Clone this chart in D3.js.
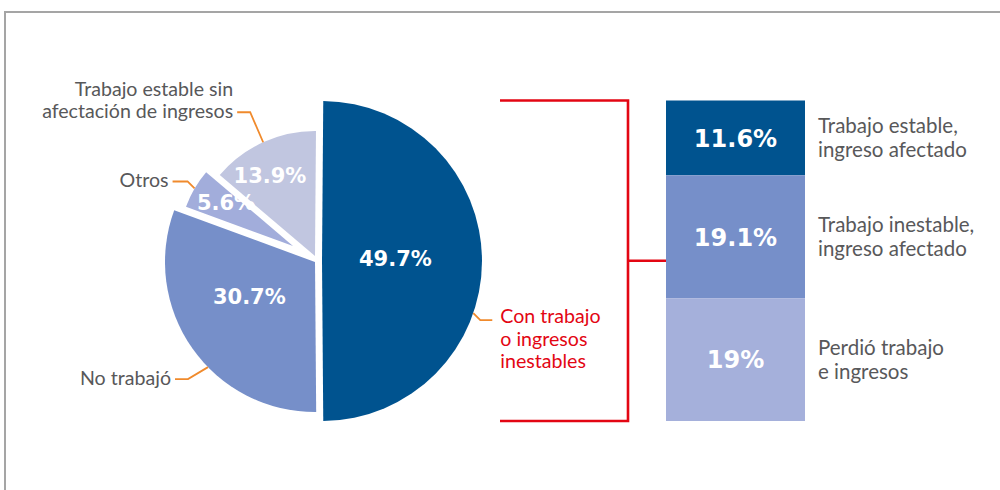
<!DOCTYPE html>
<html>
<head>
<meta charset="utf-8">
<script src="https://cdn.jsdelivr.net/npm/d3@7/dist/d3.min.js"></script>
<style>
  html, body { margin: 0; padding: 0; background: #fff; }
  svg { display: block; }
</style>
</head>
<body>
<svg id="chart" width="1000" height="490"></svg>
<script>
// ---------------- DATA ----------------
const pieCategories = ["Con trabajo o ingresos inestables", "No trabajó", "Otros", "Trabajo estable sin afectación de ingresos"];
const pieValues = [49.7, 30.7, 5.6, 13.9];
const pieValueLabels = ["49.7%", "30.7%", "5.6%", "13.9%"];

const barCategories = ["Trabajo estable, ingreso afectado", "Trabajo inestable, ingreso afectado", "Perdió trabajo e ingresos"];
const barValues = [11.6, 19.1, 19];
const barValueLabels = ["11.6%", "19.1%", "19%"];

const pieCategoryLines = [
  ["Con trabajo", "o ingresos", "inestables"],
  ["No trabajó"],
  ["Otros"],
  ["Trabajo estable sin", "afectación de ingresos"]
];
const barCategoryLines = [
  ["Trabajo estable,", "ingreso afectado"],
  ["Trabajo inestable,", "ingreso afectado"],
  ["Perdió trabajo", "e ingresos"]
];

// ---------------- STYLE / LAYOUT ----------------
const pieColors = ["#00538f", "#768fc9", "#a2addb", "#c1c6e0"];
const barColors = ["#00538f", "#768fc9", "#a5b0db"];
const RED = "#e30613", ORANGE = "#f08a2c", GRAY = "#58585a";
const FONT = "Lato, 'Open Sans', sans-serif";
const BOLDFONT = "'DejaVu Sans', Lato, sans-serif";

// per-slice exploded apex and radius
const sliceLayout = [
  { cx: 322, cy: 261, r: 160 },
  { cx: 315, cy: 262, r: 150 },
  { cx: 293, cy: 246, r: 114 },
  { cx: 315, cy: 256, r: 125 }
];
// value label placement (angle in degrees from 12 o'clock, distance from apex)
const valueLabelPolar = [[87.7, 73.5], [242.5, 74], [303.2, 80], [330.7, 92]];
// leader lines: arc angle (deg), elbow dx, elbow dy, horizontal length, side
const leaders = [
  { a: 109, ex: 7, ey: 7, h: 12, side: 1, label: "red" },
  { a: 225.5, ex: -20, ey: 12, h: 13, side: -1 },
  { a: 300.3, ex: -7, ey: -7, h: 15, side: -1 },
  { a: 335.5, ex: -13, ey: -30, h: 13, side: -1 }
];

const svg = d3.select("#chart");

// frame
svg.append("path")
  .attr("d", "M5,490 L5,12 L1000,12")
  .attr("fill", "none").attr("stroke", "#a5a5a5").attr("stroke-width", 2);

// ---------------- PIE ----------------
const total = d3.sum(pieValues);
const darkSpan = pieValues[0] / total * 2 * Math.PI;
const a0 = Math.PI / 2 - darkSpan / 2;
const pie = d3.pie().sort(null).value(d => d).startAngle(a0).endAngle(a0 + 2 * Math.PI);
const arcs = pie(pieValues);

const polar = (i, angRad, dist) => {
  const L = sliceLayout[i];
  return [L.cx + Math.sin(angRad) * dist, L.cy - Math.cos(angRad) * dist];
};

const gPie = svg.append("g");
gPie.selectAll("path.slice")
  .data(arcs)
  .join("path")
  .attr("class", "slice")
  .attr("transform", (d, i) => `translate(${sliceLayout[i].cx},${sliceLayout[i].cy})`)
  .attr("d", (d, i) => d3.arc().innerRadius(0).outerRadius(sliceLayout[i].r)(d))
  .attr("fill", (d, i) => pieColors[i]);

gPie.selectAll("text.val")
  .data(arcs)
  .join("text")
  .attr("class", "val")
  .attr("x", (d, i) => polar(i, valueLabelPolar[i][0] * Math.PI / 180, valueLabelPolar[i][1])[0])
  .attr("y", (d, i) => polar(i, valueLabelPolar[i][0] * Math.PI / 180, valueLabelPolar[i][1])[1] + 7.5)
  .attr("text-anchor", "middle")
  .attr("font-family", BOLDFONT).attr("font-weight", 700).attr("font-size", 21)
  .attr("fill", "#fff")
  .text((d, i) => pieValueLabels[i]);

// leaders + category labels
leaders.forEach((ld, i) => {
  const p0 = polar(i, ld.a * Math.PI / 180, sliceLayout[i].r);
  const p1 = [p0[0] + ld.ex, p0[1] + ld.ey];
  const p2 = [p1[0] + ld.side * ld.h, p1[1]];
  svg.append("polyline")
    .attr("points", [p0, p1, p2].map(p => p.join(",")).join(" "))
    .attr("fill", "none").attr("stroke", ORANGE).attr("stroke-width", 1.8);
  const isRed = ld.label === "red";
  const lines = pieCategoryLines[i];
  const lh = isRed ? 22.7 : 21.5;
  const tx = p2[0] + (ld.side > 0 ? 8 : -4);
  const firstBaseline = isRed ? p2[1] + 3 : p2[1] + 5.5 - (lines.length - 1) * lh;
  const t = svg.append("text")
    .attr("font-family", FONT).attr("font-size", 19.6)
    .attr("fill", isRed ? RED : GRAY)
    .attr("text-anchor", ld.side > 0 ? "start" : "end");
  lines.forEach((ln, k) => {
    t.append("tspan").attr("x", tx).attr("y", firstBaseline + k * lh).text(ln);
  });
});

// ---------------- STACKED BAR ----------------
const barX = 666, barW = 139;
const barTotal = d3.sum(barValues);
const y = d3.scaleLinear().domain([0, barTotal]).range([100.5, 421]);
const cum = [];
barValues.reduce((acc, v, i) => { cum[i] = acc; return acc + v; }, 0);

const gBar = svg.append("g");
gBar.selectAll("rect")
  .data(barValues)
  .join("rect")
  .attr("x", barX)
  .attr("y", (d, i) => y(cum[i]))
  .attr("width", barW)
  .attr("height", (d, i) => y(cum[i] + d) - y(cum[i]))
  .attr("fill", (d, i) => barColors[i]);

gBar.selectAll("text.bval")
  .data(barValues)
  .join("text")
  .attr("class", "bval")
  .attr("x", barX + barW / 2)
  .attr("y", (d, i) => y(cum[i] + d / 2) + 8.7)
  .attr("text-anchor", "middle")
  .attr("font-family", BOLDFONT).attr("font-weight", 700).attr("font-size", 24)
  .attr("fill", "#fff")
  .text((d, i) => barValueLabels[i]);

barCategoryLines.forEach((lines, i) => {
  const c = y(cum[i] + barValues[i] / 2);
  const t = svg.append("text")
    .attr("font-family", FONT).attr("font-size", 20.5)
    .attr("fill", GRAY);
  lines.forEach((ln, k) => {
    t.append("tspan").attr("x", 818).attr("y", c - 5 + k * 24.5).text(ln);
  });
});

// ---------------- RED BRACKET ----------------
const bx0 = 500, bx1 = 628;
const yTop = y(0), yBot = y(barTotal), yMid = (yTop + yBot) / 2;
svg.append("path")
  .attr("d", `M${bx0},${yTop} L${bx1},${yTop} L${bx1},${yBot} L${bx0},${yBot} M${bx1},${yMid} L${barX},${yMid}`)
  .attr("fill", "none").attr("stroke", RED).attr("stroke-width", 2.6);
</script>
</body>
</html>
